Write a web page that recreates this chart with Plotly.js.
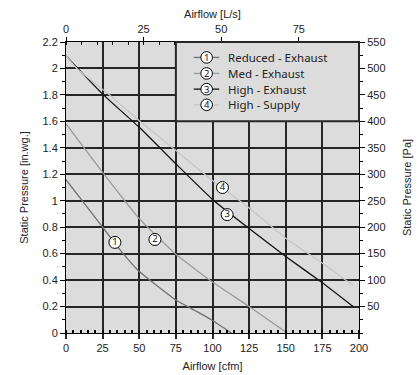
<!DOCTYPE html>
<html>
<head>
<meta charset="utf-8">
<script src="https://cdn.plot.ly/plotly-3.0.1.min.js"></script>
<style>html,body{margin:0;padding:0;background:#fff;}#chart{width:417px;height:375px;}</style>
</head>
<body>
<div id="chart"></div>
<script>
// ---- data (Airflow in cfm, Static pressure in in.wg.) ----
const seriesNames = ['Reduced - Exhaust', 'Med - Exhaust', 'High - Exhaust', 'High - Supply'];
const seriesNums = ['1', '2', '3', '4'];

const reducedX = [0, 25, 39, 50, 63, 75, 88, 100, 113];
const reducedY = [1.16, 0.80, 0.60, 0.465, 0.35, 0.25, 0.17, 0.095, 0];

const medX = [0, 25, 50, 75, 100, 125, 151];
const medY = [1.58, 1.215, 0.865, 0.595, 0.385, 0.2, 0];

const highExX = [0, 25, 50, 75, 100, 125, 150, 175, 196];
const highExY = [2.095, 1.806, 1.555, 1.279, 1.01, 0.79, 0.578, 0.38, 0.20];

const highSupX = [0, 8, 29, 50, 75, 100, 125, 150, 175, 196];
const highSupY = [2.095, 1.994, 1.806, 1.605, 1.379, 1.153, 0.945, 0.717, 0.528, 0.36];

// curve number labels
const labelX = [33.4, 60.7, 110, 106.8];
const labelY = [0.685, 0.707, 0.895, 1.10];

// axis ticks
const cfmTicks = [0, 25, 50, 75, 100, 125, 150, 175, 200];
const lpsTicks = [0, 25, 50, 75];
const inwgTicks = [0, 0.2, 0.4, 0.6, 0.8, 1, 1.2, 1.4, 1.6, 1.8, 2, 2.2];
const paTicks = [50, 100, 150, 200, 250, 300, 350, 400, 450, 500, 550];

const CFM_PER_LPS = 2.11888;
const PA_PER_INWG = 250;

// ---- styles ----
const colors = ['#707070', '#9a9a9a', '#111111', '#c6c6c6'];
const gridColor = '#262626';
const bg = '#dcdcdc';
const tickFont = {family: "'Liberation Sans', Arial, sans-serif", size: 11, color: '#222'};

const xs = [reducedX, medX, highExX, highSupX];
const ys = [reducedY, medY, highExY, highSupY];

const traces = xs.map((x, i) => ({
  x: x, y: ys[i], type: 'scatter', mode: 'lines',
  line: {color: colors[i], width: 1.3, shape: 'spline', smoothing: 0.4},
  name: seriesNames[i], showlegend: false, hoverinfo: 'skip'
}));

traces.push({
  x: labelX, y: labelY, type: 'scatter', mode: 'markers+text',
  text: seriesNums, textposition: 'middle center',
  textfont: {family: 'Open Sans, sans-serif', size: 9.5, color: '#000'},
  marker: {symbol: 'circle', size: 12, color: '#fff', line: {color: '#000', width: 1}},
  showlegend: false, hoverinfo: 'skip', cliponaxis: false
});

// ---- custom legend box (paper fractions) ----
const legBox = {x0: 75 / 200, x1: 1, y0: 1.6 / 2.2, y1: 1};
const legRows = [0.947, 0.892, 0.838, 0.784];
const legLine = [0.436, 0.523];
const legCircle = 0.48;
const legText = 0.545;

const shapes = [{
  type: 'rect', xref: 'paper', yref: 'paper',
  x0: legBox.x0, x1: legBox.x1, y0: legBox.y0, y1: legBox.y1,
  fillcolor: bg, line: {color: gridColor, width: 2}, layer: 'above'
}];
const annotations = [];
legRows.forEach((yy, i) => {
  shapes.push({type: 'line', xref: 'paper', yref: 'paper', x0: legLine[0], x1: legLine[1], y0: yy, y1: yy,
    line: {color: colors[i], width: 1.3}, layer: 'above'});
  shapes.push({type: 'circle', xref: 'paper', yref: 'paper', xsizemode: 'pixel', ysizemode: 'pixel',
    xanchor: legCircle, yanchor: yy, x0: -5.8, x1: 5.8, y0: -5.8, y1: 5.8,
    fillcolor: '#fff', line: {color: '#000', width: 1}, layer: 'above'});
  annotations.push({xref: 'paper', yref: 'paper', x: legCircle, y: yy, text: seriesNums[i], showarrow: false,
    xanchor: 'center', yanchor: 'middle', font: {family: 'Open Sans, sans-serif', size: 9.5, color: '#000'}});
  annotations.push({xref: 'paper', yref: 'paper', x: legText, y: yy, text: seriesNames[i], showarrow: false,
    xanchor: 'left', yanchor: 'middle', font: {family: 'Noto Sans, sans-serif', size: 11.5, color: '#222'}});
});

const layout = {
  width: 417, height: 375,
  margin: {l: 66, r: 58, t: 42, b: 42},
  paper_bgcolor: '#fff', plot_bgcolor: bg,
  showlegend: false,
  font: tickFont,
  xaxis: {
    range: [0, 200], tickvals: cfmTicks, ticks: 'outside', ticklen: 5, tickcolor: gridColor, tickwidth: 2,
    showgrid: true, gridcolor: gridColor, gridwidth: 2, zeroline: false,
    showline: true, linecolor: '#000', linewidth: 1, mirror: false,
    minor: {dtick: 5, ticks: 'inside', ticklen: 3, tickcolor: '#000', showgrid: false},
    tickfont: tickFont,
    title: {text: 'Airflow [cfm]', font: tickFont, standoff: 9}
  },
  xaxis2: {
    overlaying: 'x', side: 'top', range: [0, 200 / CFM_PER_LPS],
    tickvals: lpsTicks, ticks: 'outside', ticklen: 4, tickcolor: '#000',
    showgrid: false, zeroline: false, showline: true, linecolor: '#000', linewidth: 1,
    minor: {dtick: 5, ticks: 'inside', ticklen: 3, tickcolor: '#000', showgrid: false},
    tickfont: tickFont,
    title: {text: 'Airflow [L/s]', font: tickFont, standoff: 1}
  },
  yaxis: {
    range: [0, 2.2], tickvals: inwgTicks, ticktext: inwgTicks.map(v => String(v)),
    ticks: 'outside', ticklen: 5, tickcolor: '#000',
    showgrid: true, gridcolor: gridColor, gridwidth: 2, zeroline: false,
    showline: true, linecolor: '#000', linewidth: 1,
    minor: {dtick: 0.1, ticks: 'outside', ticklen: 3, tickcolor: '#000', showgrid: false},
    tickfont: tickFont,
    title: {text: 'Static Pressure [in.wg.]', font: tickFont, standoff: 11}
  },
  yaxis2: {
    overlaying: 'y', side: 'right', range: [0, 2.2 * PA_PER_INWG],
    tickvals: paTicks, ticks: 'outside', ticklen: 5, tickcolor: '#000',
    showgrid: false, zeroline: false, showline: true, linecolor: '#000', linewidth: 1,
    minor: {dtick: 25, ticks: 'outside', ticklen: 3, tickcolor: '#000', showgrid: false},
    tickfont: tickFont,
    title: {text: 'Static Pressure [Pa]', font: tickFont, standoff: 18}
  },
  shapes: shapes,
  annotations: annotations
};

// dummy traces to activate the secondary axes
traces.push({x: [0], y: [null], xaxis: 'x2', yaxis: 'y', type: 'scatter', mode: 'markers', showlegend: false, hoverinfo: 'skip'});
traces.push({x: [0], y: [null], xaxis: 'x', yaxis: 'y2', type: 'scatter', mode: 'markers', showlegend: false, hoverinfo: 'skip'});

Plotly.newPlot('chart', traces, layout, {displayModeBar: false});
</script>
</body>
</html>
